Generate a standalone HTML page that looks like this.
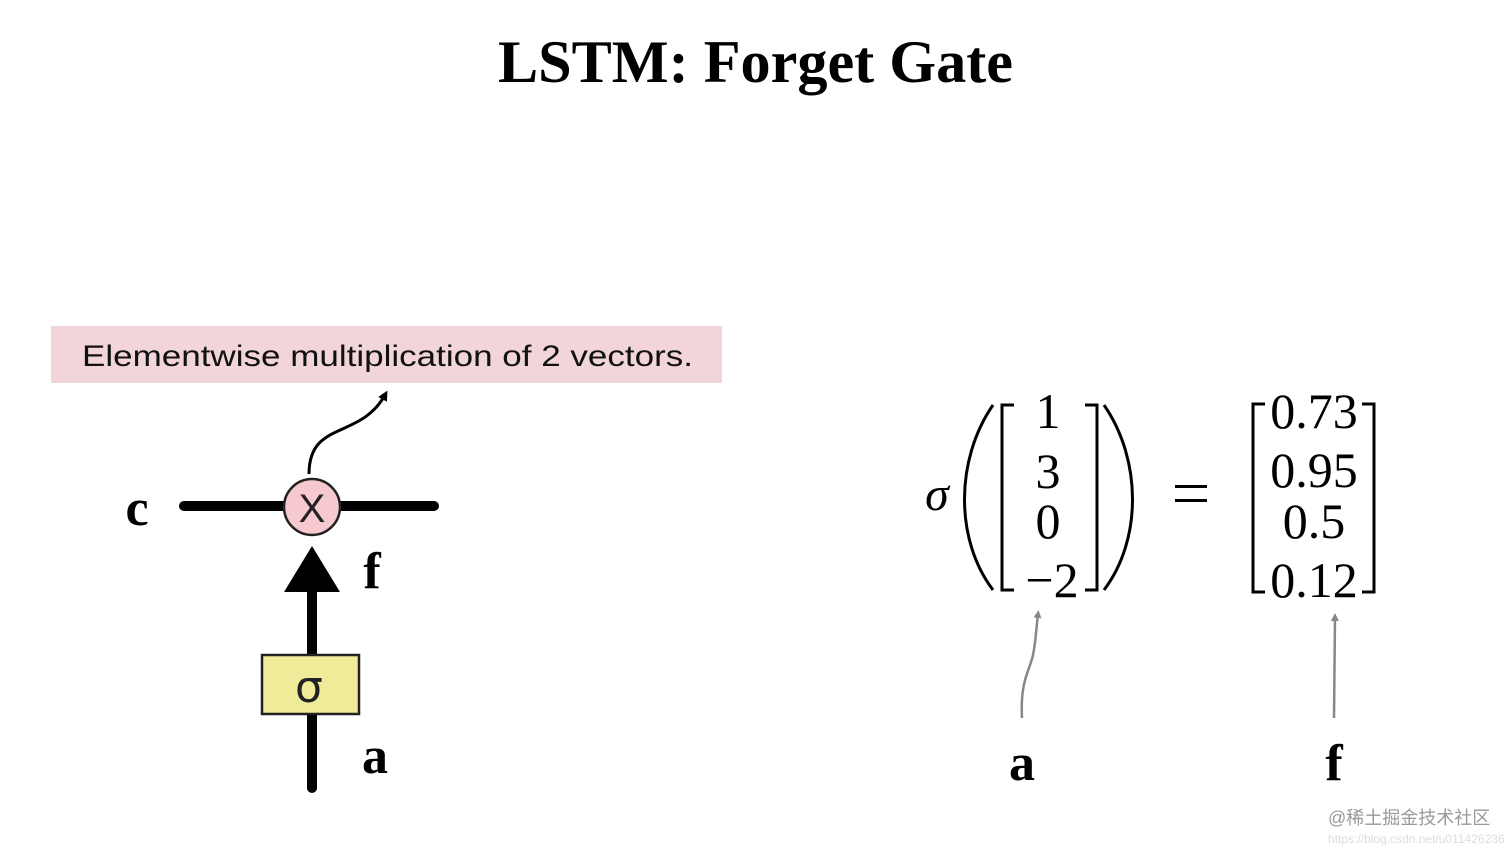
<!DOCTYPE html>
<html><head><meta charset="utf-8"><style>
html,body{margin:0;padding:0;background:#fff;}
svg{display:block;}
</style></head><body>
<svg width="1512" height="851" viewBox="0 0 1512 851" xmlns="http://www.w3.org/2000/svg">
<defs>
<marker id="ab" markerWidth="10" markerHeight="10" refX="5" refY="5" orient="auto" markerUnits="userSpaceOnUse"><path d="M0,0 L10,5 L0,10 z" fill="#000"/></marker>
<marker id="ag" markerWidth="8" markerHeight="8" refX="4" refY="4" orient="auto" markerUnits="userSpaceOnUse"><path d="M0,0 L8,4 L0,8 z" fill="#888"/></marker>
</defs>
<text x="498" y="82" font-family="Liberation Serif, serif" font-weight="bold" font-size="60" textLength="515" lengthAdjust="spacingAndGlyphs">LSTM: Forget Gate</text>
<rect x="51" y="326" width="671" height="57" fill="#f2d5da"/>
<text x="82" y="366" font-family="Liberation Sans, sans-serif" font-size="30" textLength="611" lengthAdjust="spacingAndGlyphs" fill="#111">Elementwise multiplication of 2 vectors.</text>
<!-- left diagram -->
<text x="137" y="525" text-anchor="middle" font-family="Liberation Serif, serif" font-weight="bold" font-size="52">c</text>
<line x1="184" y1="506" x2="434" y2="506" stroke="#000" stroke-width="10" stroke-linecap="round"/>
<circle cx="312" cy="507" r="28" fill="#f5c9cd" stroke="#222" stroke-width="2.5"/>
<text x="312" y="522" text-anchor="middle" font-family="Liberation Sans, sans-serif" font-size="40" fill="#222">X</text>
<path d="M309,474 C309,420 360,440 385,395" fill="none" stroke="#000" stroke-width="3" marker-end="url(#ab)"/>
<polygon points="312,546 284,592 340,592" fill="#000"/>
<line x1="312" y1="590" x2="312" y2="788" stroke="#000" stroke-width="10" stroke-linecap="round"/>
<rect x="262" y="655" width="97" height="59" fill="#f0eb98" stroke="#222" stroke-width="2.5"/>
<text x="309" y="702" text-anchor="middle" font-family="DejaVu Sans, sans-serif" font-size="44" fill="#222">σ</text>
<text x="372" y="588" text-anchor="middle" font-family="Liberation Serif, serif" font-weight="bold" font-size="52">f</text>
<text x="375" y="773" text-anchor="middle" font-family="Liberation Serif, serif" font-weight="bold" font-size="52">a</text>
<!-- equation -->
<text x="937" y="510" text-anchor="middle" font-family="Liberation Serif, serif" font-style="italic" font-size="48">σ</text>
<path d="M993,405 C955,460 955,540 993,590" fill="none" stroke="#000" stroke-width="3"/>
<path d="M1104,405 C1142,460 1142,540 1104,590" fill="none" stroke="#000" stroke-width="3"/>
<path d="M1014,405 L1002,405 L1002,590 L1014,590" fill="none" stroke="#000" stroke-width="3"/>
<path d="M1085,405 L1097,405 L1097,590 L1085,590" fill="none" stroke="#000" stroke-width="3"/>
<g font-family="Liberation Serif, serif" font-size="50" text-anchor="middle">
<text x="1048" y="428">1</text>
<text x="1048" y="488">3</text>
<text x="1048" y="538">0</text>
<text x="1052" y="597">−2</text>
<text x="1314" y="428">0.73</text>
<text x="1314" y="487">0.95</text>
<text x="1314" y="538">0.5</text>
<text x="1314" y="597">0.12</text>
</g>
<rect x="1175" y="485" width="32" height="3" fill="#000"/>
<rect x="1175" y="499" width="32" height="3" fill="#000"/>
<path d="M1265,404 L1253,404 L1253,592 L1265,592" fill="none" stroke="#000" stroke-width="3"/>
<path d="M1362,404 L1374,404 L1374,592 L1362,592" fill="none" stroke="#000" stroke-width="3"/>
<path d="M1022,718 C1020,680 1030,670 1033,655 C1036,640 1036,630 1038,614" fill="none" stroke="#888" stroke-width="2.5" marker-end="url(#ag)"/>
<path d="M1334,718 L1335,617" fill="none" stroke="#888" stroke-width="2.5" marker-end="url(#ag)"/>
<text x="1022" y="780" text-anchor="middle" font-family="Liberation Serif, serif" font-weight="bold" font-size="52">a</text>
<text x="1334" y="780" text-anchor="middle" font-family="Liberation Serif, serif" font-weight="bold" font-size="52">f</text>
<text x="1328" y="824" font-family="Liberation Sans, 'Noto Sans CJK SC', sans-serif" font-size="18" fill="#999">@稀土掘金技术社区</text>
<text x="1328" y="843" font-family="Liberation Sans, sans-serif" font-size="12" fill="#ddd">https://blog.csdn.net/u011426236</text>
</svg>
</body></html>
